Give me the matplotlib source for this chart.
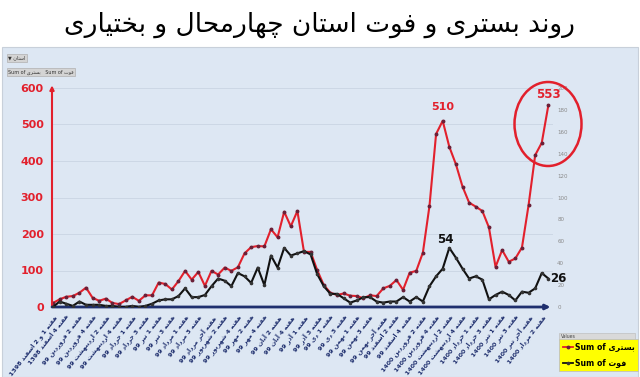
import matplotlib
matplotlib.use("Agg")
import matplotlib.pyplot as plt
from matplotlib.patches import Rectangle, Ellipse
from matplotlib.lines import Line2D

# Weekly data (left axis: hospitalised, right axis: deaths)
hospital = [11, 21, 28, 30, 39, 53, 25, 17, 23, 11,
            8, 18, 28, 17, 32, 32, 67, 63, 48, 71,
            99, 75, 96, 58, 99, 89, 108, 99, 109, 147,
            164, 167, 166, 213, 191, 261, 221, 263, 151, 151,
            101, 60, 39, 33, 37, 31, 30, 24, 32, 30,
            51, 58, 74, 47, 94, 99, 149, 277, 474, 510,
            439, 391, 330, 286, 275, 263, 218, 110, 156, 124,
            133, 163, 279, 416, 450, 553]
deaths = [0, 5, 3, 1, 5, 2, 2, 2, 1, 1,
          0, 0, 1, 0, 1, 3, 6, 7, 7, 10,
          17, 9, 9, 11, 19, 26, 24, 19, 31, 28,
          22, 36, 20, 47, 36, 54, 47, 49, 51, 48,
          30, 19, 12, 12, 8, 4, 6, 9, 9, 5,
          4, 5, 5, 9, 5, 9, 5, 19, 28, 35,
          54, 45, 35, 26, 28, 25, 7, 11, 14, 11,
          6, 14, 13, 17, 31, 26]

week_labels = [
    'هفته 1 و 2 اسفند 1398', 'هفته 4 اسفند 1398',
    'هفته 2 فروردین 99', 'هفته 4 فروردین 99',
    'هفته 2 اردیبهشت 99', 'هفته 4 اردیبهشت 99',
    'هفته 1 خرداد 99', 'هفته 3 خرداد 99',
    'هفته 1 تیر 99', 'هفته 3 تیر 99',
    'هفته 1 مرداد 99', 'هفته 3 مرداد 99',
    'هفته آخر مرداد 99', 'هفته 2 شهریور 99',
    'هفته 4 شهریور 99', 'هفته 2 مهر 99',
    'هفته 4 مهر 99', 'هفته 2 آبان 99',
    'هفته 4 آبان 99', 'هفته 1 آذر 99',
    'هفته 3 آذر 99', 'هفته 1 دی 99',
    'هفته 3 دی 99', 'هفته 1 بهمن 99',
    'هفته 3 بهمن 99', 'هفته آخر بهمن 99',
    'هفته 2 اسفند 99', 'هفته 4 اسفند 99',
    'هفته 2 فروردین 1400', 'هفته 4 فروردین 1400',
    'هفته 2 اردیبهشت 1400', 'هفته 4 اردیبهشت 1400',
    'هفته 1 خرداد 1400', 'هفته 3 خرداد 1400',
    'هفته 1 تیر 1400', 'هفته 3 تیر 1400',
    'هفته آخر تیر 1400', 'هفته 2 مرداد 1400',
]
left_ticks = [0, 100, 200, 300, 400, 500, 600]
right_ticks = [0, 20, 40, 60, 80, 100, 120, 140, 160, 180, 200]

title = 'روند بستری و فوت استان چهارمحال و بختیاری'
name_hosp = 'بستری'
name_death = 'فوت'

# matplotlib does no Arabic shaping, so pick the presentation forms by hand
FORMS = {
    'ا': ('\uFE8D', '\uFE8E', None, None),
    'آ': ('\uFE81', '\uFE82', None, None),
    'ب': ('\uFE8F', '\uFE90', '\uFE91', '\uFE92'),
    'پ': ('\uFB56', '\uFB57', '\uFB58', '\uFB59'),
    'ت': ('\uFE95', '\uFE96', '\uFE97', '\uFE98'),
    'ج': ('\uFE9D', '\uFE9E', '\uFE9F', '\uFEA0'),
    'چ': ('\uFB7A', '\uFB7B', '\uFB7C', '\uFB7D'),
    'ح': ('\uFEA1', '\uFEA2', '\uFEA3', '\uFEA4'),
    'خ': ('\uFEA5', '\uFEA6', '\uFEA7', '\uFEA8'),
    'د': ('\uFEA9', '\uFEAA', None, None),
    'ذ': ('\uFEAB', '\uFEAC', None, None),
    'ر': ('\uFEAD', '\uFEAE', None, None),
    'ز': ('\uFEAF', '\uFEB0', None, None),
    'ژ': ('\uFB8A', '\uFB8B', None, None),
    'س': ('\uFEB1', '\uFEB2', '\uFEB3', '\uFEB4'),
    'ش': ('\uFEB5', '\uFEB6', '\uFEB7', '\uFEB8'),
    'ف': ('\uFED1', '\uFED2', '\uFED3', '\uFED4'),
    'ق': ('\uFED5', '\uFED6', '\uFED7', '\uFED8'),
    'ک': ('\uFB8E', '\uFB8F', '\uFB90', '\uFB91'),
    'گ': ('\uFB92', '\uFB93', '\uFB94', '\uFB95'),
    'ل': ('\uFEDD', '\uFEDE', '\uFEDF', '\uFEE0'),
    'م': ('\uFEE1', '\uFEE2', '\uFEE3', '\uFEE4'),
    'ن': ('\uFEE5', '\uFEE6', '\uFEE7', '\uFEE8'),
    'و': ('\uFEED', '\uFEEE', None, None),
    'ه': ('\uFEE9', '\uFEEA', '\uFEEB', '\uFEEC'),
    'ی': ('\uFBFC', '\uFBFD', '\uFBFE', '\uFBFF'),
}


def shape_word(w):
    out = []
    for i, c in enumerate(w):
        f = FORMS.get(c)
        if f is None:
            out.append(c)
            continue
        prev = w[i - 1] if i > 0 else None
        nxt = w[i + 1] if i + 1 < len(w) else None
        jp = prev in FORMS and FORMS[prev][2] is not None
        jn = f[2] is not None and nxt in FORMS
        if jp and jn:
            out.append(f[3])
        elif jp:
            out.append(f[1])
        elif jn:
            out.append(f[2])
        else:
            out.append(f[0])
    return ''.join(reversed(out))


def is_fa(w):
    return any(c in FORMS for c in w)


def fa(text):
    # right-to-left paragraph
    return ' '.join(shape_word(w) if is_fa(w) else w for w in reversed(text.split(' ')))


def mixed(text):
    # left-to-right paragraph with persian words inside
    return ' '.join(shape_word(w) if is_fa(w) else w for w in text.split(' '))


RED = '#e2202c'
NAVY = '#1f2f6e'
BG = '#dde7f3'

fig = plt.figure(figsize=(6.4, 3.77), dpi=100)
fig.patch.set_facecolor('white')
fig.add_artist(Rectangle((0.003, 0.0), 0.994, 1 - 47 / 377, transform=fig.transFigure,
                         facecolor=BG, edgecolor='#c8d0da', lw=0.8, zorder=-10))

ax = fig.add_axes([52 / 640, 1 - 307 / 377, 501 / 640, 219 / 377])
ax.set_facecolor('none')
x = list(range(len(hospital)))

ax.plot(x, hospital, color=RED, lw=1.5, marker='o', ms=1.8,
        mfc='#6b2038', mec='#6b2038', zorder=3)
ax.set_ylim(0, 600)
ax.set_xlim(-0.15, len(hospital) - 0.3)
ax.set_yticks(left_ticks)
ax.tick_params(axis='y', length=0, pad=6, labelcolor=RED, labelsize=8)
for t in ax.get_yticklabels():
    t.set_fontweight('bold')
ax.grid(axis='y', color='#c9d4e3', lw=0.6)
ax.set_axisbelow(True)
for s in ['top', 'right', 'left', 'bottom']:
    ax.spines[s].set_visible(False)

ax.set_xticks(x[::2])
ax.set_xticklabels([fa(s) for s in week_labels], rotation=52, ha='right', va='top',
                   rotation_mode='anchor', fontsize=4.5, fontweight='bold', color=NAVY)
ax.tick_params(axis='x', length=0, pad=5)

# axis arrows
ax.annotate('', xy=(0, 1.012), xytext=(0, 0), xycoords='axes fraction',
            arrowprops=dict(arrowstyle='-|>', color=RED, lw=1.5, mutation_scale=6,
                            shrinkA=0, shrinkB=0), annotation_clip=False)
ax.annotate('', xy=(0.995, 0), xytext=(0, 0), xycoords='axes fraction',
            arrowprops=dict(arrowstyle='-|>', color=NAVY, lw=2, mutation_scale=7,
                            shrinkA=0, shrinkB=0), annotation_clip=False)

ax2 = ax.twinx()
ax2.plot(x, deaths, color='#111111', lw=1.5, marker='o', ms=1.6,
         mfc='#333333', mec='#333333', zorder=3)
ax2.set_ylim(0, 200)
ax2.set_yticks(right_ticks)
ax2.tick_params(axis='y', length=0, pad=3, labelcolor='#8a8a8a', labelsize=4)
for s in ['top', 'right', 'left', 'bottom']:
    ax2.spines[s].set_visible(False)

# value labels
i_peak = hospital.index(max(hospital[:70]))
ax.annotate(str(hospital[i_peak]), (x[i_peak], hospital[i_peak]), xytext=(0, 10),
            textcoords='offset points', ha='center', va='center',
            color=RED, fontsize=8, fontweight='bold')
ax.annotate(str(hospital[-1]), (x[-1], hospital[-1]), xytext=(0, 8),
            textcoords='offset points', ha='center', va='center',
            color=RED, fontsize=8.5, fontweight='bold')
j_peak = 50 + deaths[50:].index(max(deaths[50:]))
ax2.annotate(str(deaths[j_peak]), (x[j_peak], deaths[j_peak]), xytext=(-3, 6),
             textcoords='offset points', ha='center', va='center',
             color='#111111', fontsize=8.5, fontweight='bold')
ax2.annotate(str(deaths[-1]), (x[-1], deaths[-1]), xytext=(7, 0),
             textcoords='offset points', ha='center', va='center',
             color='#111111', fontsize=8.5, fontweight='bold')

# red circle around the last weeks
fig.add_artist(Ellipse((548 / 640, 1 - 124 / 377), 67 / 640, 84 / 377,
                       transform=fig.transFigure, fill=False, edgecolor=RED, lw=1.8))

fig.text(0.5, 1 - 25 / 377, fa(title), ha='center', va='center', fontsize=19, color='black')

# small pivot buttons at top left
fig.text(8 / 640, 1 - 58 / 377, '\u25BC ' + fa('استان'), fontsize=3.5, color='#333333',
         va='center', bbox=dict(boxstyle='square,pad=0.3', fc='#d4d4d4', ec='#b0b0b0', lw=0.5))
fig.text(8 / 640, 1 - 72 / 377, mixed('Sum of ' + name_hosp) + '   ' + mixed('Sum of ' + name_death),
         fontsize=3.5, color='#333333', va='center',
         bbox=dict(boxstyle='square,pad=0.3', fc='#d4d4d4', ec='#b0b0b0', lw=0.5))

# legend
handles = [Line2D([], [], color=RED, lw=1.3, marker='o', ms=1.8, mfc='#6b2038', mec='#6b2038'),
           Line2D([], [], color='#111111', lw=1.3, marker='o', ms=1.6, mfc='#333333', mec='#333333')]
leg = fig.legend(handles, [mixed('Sum of ' + name_hosp), mixed('Sum of ' + name_death)],
                 loc='upper left', bbox_to_anchor=(559 / 640, 1 - 339 / 377),
                 frameon=True, facecolor='#ffff00', edgecolor='#c0c0c0', fancybox=False,
                 framealpha=1, borderpad=0.45, borderaxespad=0, handlelength=1.3,
                 handletextpad=0.25, labelspacing=0.9, prop={'weight': 'bold', 'size': 5.6})
leg.get_frame().set_linewidth(0.6)
fig.add_artist(Rectangle((559 / 640, 1 - 340 / 377), 76 / 640, 7 / 377,
                         transform=fig.transFigure, facecolor='#d9d9d9', edgecolor='#c0c0c0', lw=0.5))
fig.text(561 / 640, 1 - 336.5 / 377, 'Values', fontsize=3.3, color='#444444', va='center')

fig.savefig('out.png', dpi=100, facecolor=fig.get_facecolor())
